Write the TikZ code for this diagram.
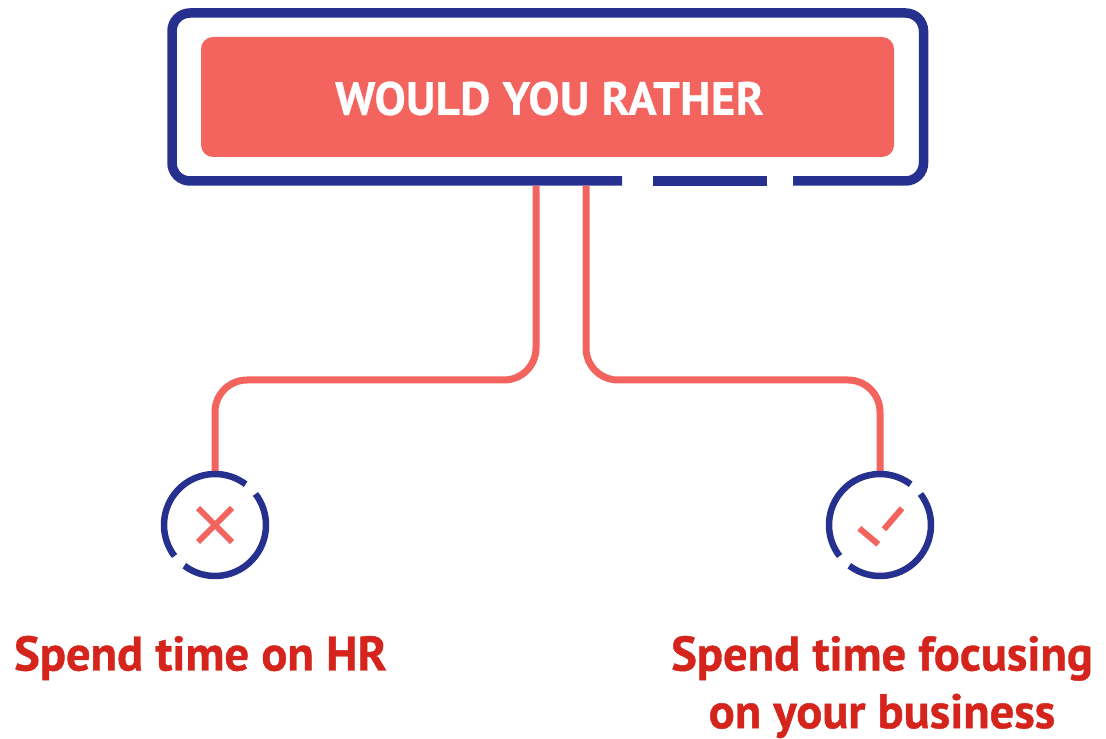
\documentclass[tikz,border=0pt]{standalone}
\usepackage{fontspec}
\setmainfont{PT Sans}
\newfontfamily\titlefont[LetterSpace=1,FakeBold=0.6]{PT Sans Bold}
\newfontfamily\choicefont[FakeBold=0.8]{PT Sans Bold}
\definecolor{navyline}{HTML}{26318F}
\definecolor{coralfill}{HTML}{F4645F}
\definecolor{labelred}{HTML}{D4241C}
\tikzset{
  frameline/.style={draw=navyline, line width=9.5*0.02cm},
  ringline/.style={draw=navyline, line width=6.5*0.02cm},
  linkline/.style={draw=coralfill, line width=7*0.02cm, rounded corners=32*0.02cm},
  markline/.style={draw=coralfill, line width=6*0.02cm},
  ringnode/.style={circle, minimum size=102*0.02cm, inner sep=0pt},
  choicelabel/.style={text=labelred, align=center, font=\fontsize{27.6}{32.8}\choicefont}
}
\begin{document}
\begin{tikzpicture}[x=0.02cm, y=0.02cm]
\useasboundingbox (0, 0) rectangle (1106, 738);
% Outer frame with two gaps in the bottom edge
\draw[frameline, rounded corners=18*0.02cm] (622, 557) -| (172, 725) -| (923.5, 557) -- (793, 557);
\draw[frameline] (653, 557) -- (767, 557);
% Title box and its text
\node[fill=coralfill, rounded corners=12*0.02cm, minimum width=693*0.02cm, minimum height=120*0.02cm, inner sep=0pt] (titlebox) at (547.5, 641) {};
\node[text=white, font=\fontsize{26.5}{30}\titlefont] (titletext) at (549.5, 639.5) {WOULD YOU RATHER};
% Rings
\node[ringnode] (crossring) at (215, 213) {};
\node[ringnode] (tickring) at (880, 213) {};
% Connectors from the frame to the rings
\coordinate (leftout) at (536, 552);
\coordinate (rightout) at (586, 552);
\draw[linkline] (leftout) |- (crossring.north |- 0, 358) -- (crossring.north);
\draw[linkline] (rightout) |- (tickring.north |- 0, 358) -- (tickring.north);
% Ring arcs, each with two gaps
\foreach \ringname in {crossring, tickring} {
  \draw[ringline] (\ringname.center) ++(53:51) arc (53:217.5:51);
  \draw[ringline] (\ringname.center) ++(233:51) arc (233:397.5:51);
}
% Cross mark
\draw[markline] (198, 196) -- (232, 230);
\draw[markline] (198, 230) -- (232, 196);
% Tick mark
\draw[markline] (859.3, 209.7) -- (878.3, 193.7);
\draw[markline] (884, 208.7) -- (902, 229.7);
% Labels below the rings
\node[choicelabel] (crosslabel) at (200.5, 80) {Spend time on HR};
\node[choicelabel] (ticklabel) at (882, 51) {Spend time focusing\\on your business};
\end{tikzpicture}
\end{document}
